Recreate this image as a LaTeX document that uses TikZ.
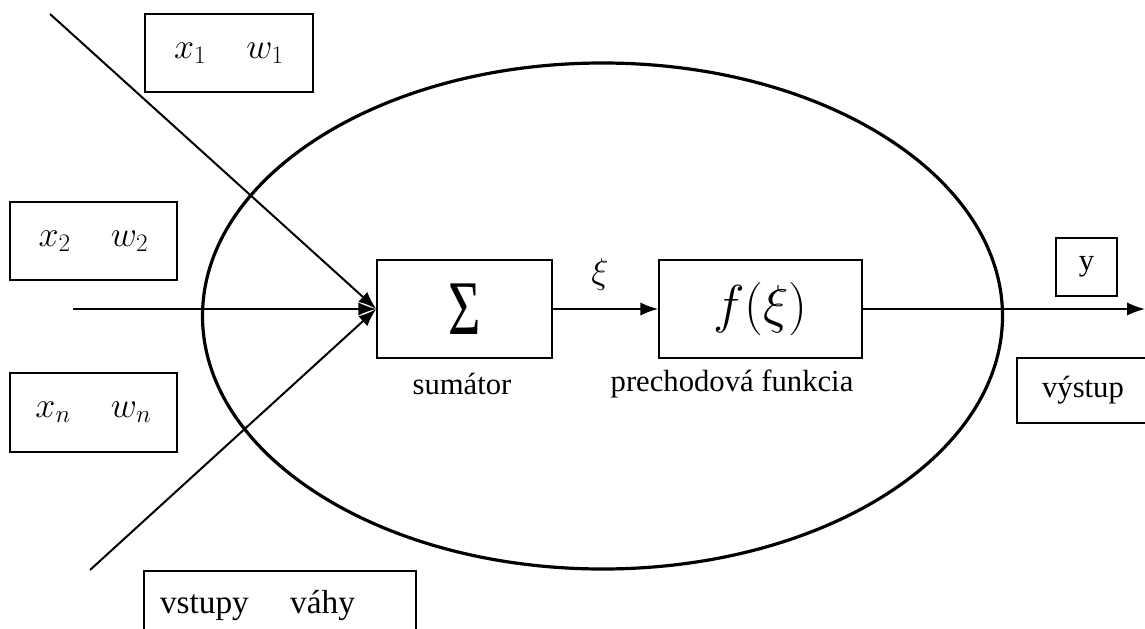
\documentclass[tikz,border=0pt]{standalone}
\usepackage{fix-cm}
\usepackage{fontspec}
\setmainfont{Liberation Serif}
\usetikzlibrary{arrows.meta}
\tikzset{
  px/.style={x=0.75pt,y=-0.75pt},
  box/.style={draw,line width=1.1pt,inner sep=0pt,font=\rmfamily\fontsize{23}{27}\selectfont},
  mbox/.style={box,font=\rmfamily\fontsize{27}{31}\selectfont},
  conn/.style={line width=1.5pt,-{Latex[length=13.5pt,width=10pt]}},
  lbl/.style={font=\rmfamily\fontsize{23}{27}\selectfont,inner sep=0pt}
}
\begin{document}
\begin{tikzpicture}[px]
\useasboundingbox (0,0) rectangle (1145,628);
% ellipse
\draw[line width=2.4pt] (602.5,316) ellipse [x radius=400*0.75pt, y radius=253*0.75pt];
% processing boxes
\node[box,minimum width=175*0.75pt,minimum height=98*0.75pt,font=\rmfamily\fontsize{58}{62}\selectfont] (sum) at (464.5,309) {\scalebox{0.72}[1]{Σ}};
\node[box,minimum width=203*0.75pt,minimum height=98*0.75pt,font=\fontsize{40}{46}\selectfont] (f) at (760.5,309) {$f(\xi)$};
% input boxes
\node[mbox,minimum width=168*0.75pt,minimum height=78*0.75pt] (b1) at (229,53) {$x_1\hspace{30pt}w_1$};
\node[mbox,minimum width=167*0.75pt,minimum height=78*0.75pt] (b2) at (93.5,241) {$x_2\hspace{30pt}w_2$};
\node[mbox,minimum width=167*0.75pt,minimum height=79*0.75pt] (bn) at (93.5,412.5) {$x_n\hspace{30pt}w_n$};
\node[box,font=\rmfamily\fontsize{25}{29}\selectfont,text width=180pt,inner xsep=12pt,align=left,minimum height=68*0.75pt] (bv) at (280,605) {vstupy\hspace{31pt}váhy};
% output boxes
\node[box,minimum width=61*0.75pt,minimum height=58*0.75pt] (by) at (1086.5,267) {y};
\node[box,minimum width=132*0.75pt,minimum height=65*0.75pt] (bo) at (1083,390.5) {výstup\hspace{14pt}};
% labels
\node[lbl] (ls) at (462,384) {sumátor};
\node[lbl] (lf) at (732,384) {prechodová funkcia};
\node[lbl,font=\fontsize{27}{31}\selectfont] (lx) at (600,274) {$\xi$};
% connectors
\coordinate (i1) at (50,14);
\coordinate (i2) at (73,309);
\coordinate (i3) at (90,570);
\coordinate (o) at (1145,309);
\draw[conn] (i1) -- (sum.west);
\draw[conn] (i2) -- (sum.west);
\draw[conn] (i3) -- (sum.west);
\draw[conn] (sum) -- (f);
\draw[conn] (f) -- (o);
\end{tikzpicture}
\end{document}
